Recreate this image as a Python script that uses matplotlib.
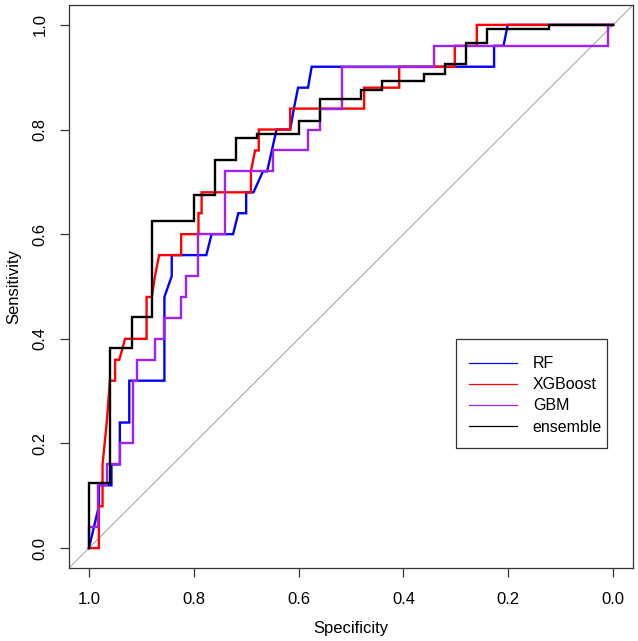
import matplotlib
matplotlib.use("Agg")
import matplotlib.pyplot as plt
from matplotlib.lines import Line2D
from matplotlib.patches import Rectangle

plt.rcParams['font.family'] = ['Liberation Sans', 'DejaVu Sans']

# ROC curve vertices (specificity, sensitivity)
rf_spec = [1.0, 0.981, 0.981, 0.957, 0.957, 0.941, 0.941, 0.923, 0.923, 0.856,
           0.856, 0.842, 0.842, 0.776, 0.766, 0.725, 0.715, 0.700, 0.700, 0.686,
           0.668, 0.660, 0.642, 0.616, 0.609, 0.601, 0.582, 0.575, 0.227, 0.227,
           0.209, 0.201, 0.0]
rf_sens = [0.0, 0.08, 0.12, 0.12, 0.16, 0.16, 0.24, 0.24, 0.32, 0.32,
           0.48, 0.52, 0.56, 0.56, 0.60, 0.60, 0.64, 0.64, 0.68, 0.68,
           0.72, 0.72, 0.80, 0.80, 0.84, 0.88, 0.88, 0.92, 0.92, 0.96,
           0.96, 1.0, 1.0]

xgb_spec = [1.0, 0.981, 0.981, 0.974, 0.974, 0.966, 0.960, 0.950, 0.950, 0.942,
            0.931, 0.890, 0.890, 0.880, 0.874, 0.866, 0.824, 0.824, 0.791, 0.791,
            0.785, 0.785, 0.691, 0.691, 0.683, 0.676, 0.676, 0.616, 0.616, 0.475,
            0.475, 0.408, 0.408, 0.302, 0.302, 0.260, 0.260, 0.0]
xgb_sens = [0.0, 0.0, 0.08, 0.08, 0.16, 0.24, 0.32, 0.32, 0.36, 0.36,
            0.40, 0.40, 0.48, 0.48, 0.52, 0.56, 0.56, 0.60, 0.60, 0.64,
            0.64, 0.68, 0.68, 0.72, 0.76, 0.76, 0.80, 0.80, 0.84, 0.84,
            0.88, 0.88, 0.92, 0.92, 0.96, 0.96, 1.0, 1.0]

gbm_spec = [1.0, 1.0, 0.982, 0.982, 0.966, 0.966, 0.941, 0.941, 0.915, 0.915,
            0.908, 0.908, 0.874, 0.874, 0.857, 0.857, 0.825, 0.825, 0.815, 0.815,
            0.791, 0.791, 0.740, 0.740, 0.648, 0.648, 0.582, 0.582, 0.559, 0.559,
            0.518, 0.518, 0.342, 0.342, 0.009, 0.009, 0.0]
gbm_sens = [0.0, 0.04, 0.04, 0.12, 0.12, 0.16, 0.16, 0.20, 0.20, 0.32,
            0.32, 0.36, 0.36, 0.40, 0.40, 0.44, 0.44, 0.48, 0.48, 0.52,
            0.52, 0.60, 0.60, 0.72, 0.72, 0.76, 0.76, 0.80, 0.80, 0.84,
            0.84, 0.92, 0.92, 0.96, 0.96, 1.0, 1.0]

ens_spec = [1.0, 1.0, 0.959, 0.959, 0.918, 0.918, 0.879, 0.879, 0.799, 0.799,
            0.760, 0.760, 0.719, 0.719, 0.680, 0.680, 0.600, 0.600, 0.560, 0.560,
            0.480, 0.480, 0.440, 0.440, 0.360, 0.360, 0.321, 0.321, 0.281, 0.281,
            0.241, 0.241, 0.122, 0.122, 0.0]
ens_sens = [0.0, 0.125, 0.125, 0.383, 0.383, 0.441, 0.441, 0.625, 0.625, 0.675,
            0.675, 0.742, 0.742, 0.783, 0.783, 0.792, 0.792, 0.816, 0.816, 0.858,
            0.858, 0.876, 0.876, 0.892, 0.892, 0.907, 0.907, 0.925, 0.925, 0.966,
            0.966, 0.992, 0.992, 1.0, 1.0]

labels = ["RF", "XGBoost", "GBM", "ensemble"]
colors = ["#0000FF", "#FF0000", "#A020F0", "#000000"]
ticks = [1.0, 0.8, 0.6, 0.4, 0.2, 0.0]
tick_labels = ["1.0", "0.8", "0.6", "0.4", "0.2", "0.0"]

fig = plt.figure(figsize=(6.38, 6.41), dpi=100)
ax = fig.add_axes([69 / 638, 73 / 641, 564 / 638, 563 / 641])

# chance line
ax.axline((1, 0), (0, 1), color="#A9A9A9", lw=0.8, zorder=1)

curves = [(rf_spec, rf_sens), (xgb_spec, xgb_sens), (gbm_spec, gbm_sens), (ens_spec, ens_sens)]
for (sx, sy), c in zip(curves, colors):
    ax.plot(sx, sy, color=c, lw=1.7, solid_joinstyle="miter", zorder=2)

ax.set_xlim(1.038, -0.038)
ax.set_ylim(-0.038, 1.038)
ax.set_xticks(ticks)
ax.set_xticklabels(tick_labels, fontsize=12)
ax.set_yticks(ticks[::-1])
ax.set_yticklabels(tick_labels[::-1], fontsize=12, rotation=90, va="center")
ax.tick_params(direction="out", length=6.5, width=0.9, color="#333333")
ax.tick_params(axis="x", pad=11)
ax.tick_params(axis="y", pad=9)
for s in ax.spines.values():
    s.set_color("#333333")
    s.set_linewidth(0.9)

ax.set_xlabel("Specificity", fontsize=12, labelpad=10)
ax.set_ylabel("Sensitivity", fontsize=12, labelpad=8)

# legend box drawn separately so the padding matches R's legend()
ax.add_patch(Rectangle((0.686, 0.213), 0.268, 0.194, transform=ax.transAxes,
                       facecolor="white", edgecolor="#333333", lw=0.9, zorder=3))
handles = [Line2D([], [], color=c, lw=0.9) for c in colors]
leg = ax.legend(handles, labels, loc="upper left", bbox_to_anchor=(0.709, 0.376),
                borderaxespad=0, borderpad=0, fontsize=11.5, frameon=False,
                handlelength=3.0, handletextpad=1.0, labelspacing=0.38)
leg.set_zorder(4)

fig.savefig("out.png", dpi=100)
